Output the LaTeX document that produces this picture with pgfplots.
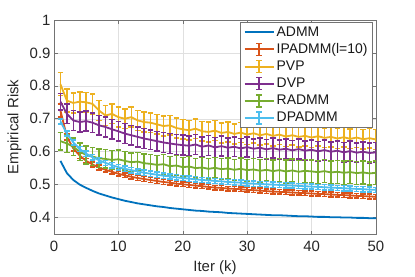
\documentclass[border=0pt]{standalone}
\usepackage{pgfplots}
\pgfplotsset{compat=1.18}
\usepackage{pgfplotstable}
\usepackage{fontspec}
\setmainfont{Liberation Sans}
\definecolor{c1}{rgb}{0,0.447,0.741}
\definecolor{c2}{rgb}{0.85,0.325,0.098}
\definecolor{c3}{rgb}{0.929,0.694,0.125}
\definecolor{c4}{rgb}{0.494,0.184,0.556}
\definecolor{c5}{rgb}{0.466,0.674,0.188}
\definecolor{c6}{rgb}{0.301,0.745,0.933}

\pgfplotstableread{
x y
1 0.572
2 0.535
3 0.514
4 0.500
5 0.490
6 0.481
7 0.473
8 0.467
9 0.461
10 0.456
11 0.451
12 0.447
13 0.443
14 0.440
15 0.437
16 0.434
17 0.432
18 0.429
19 0.427
20 0.425
21 0.423
22 0.421
23 0.420
24 0.418
25 0.417
26 0.416
27 0.414
28 0.413
29 0.412
30 0.411
31 0.410
32 0.409
33 0.408
34 0.407
35 0.407
36 0.406
37 0.405
38 0.404
39 0.404
40 0.403
41 0.402
42 0.402
43 0.401
44 0.401
45 0.400
46 0.400
47 0.399
48 0.399
49 0.398
50 0.398
}\admm

\pgfplotstableread{
x y e
1 0.725 0.020
2 0.645 0.010
3 0.610 0.008
4 0.588 0.008
5 0.572 0.007
6 0.561 0.007
7 0.552 0.007
8 0.545 0.007
9 0.539 0.007
10 0.533 0.007
11 0.528 0.007
12 0.524 0.007
13 0.520 0.007
14 0.517 0.007
15 0.514 0.007
16 0.511 0.007
17 0.508 0.007
18 0.506 0.007
19 0.503 0.007
20 0.501 0.007
21 0.499 0.007
22 0.497 0.007
23 0.495 0.007
24 0.493 0.007
25 0.491 0.007
26 0.490 0.007
27 0.488 0.007
28 0.487 0.007
29 0.486 0.007
30 0.484 0.007
31 0.483 0.007
32 0.482 0.007
33 0.480 0.007
34 0.479 0.007
35 0.478 0.007
36 0.477 0.007
37 0.476 0.007
38 0.475 0.007
39 0.474 0.007
40 0.473 0.007
41 0.472 0.007
42 0.471 0.007
43 0.470 0.007
44 0.469 0.007
45 0.468 0.007
46 0.467 0.007
47 0.466 0.007
48 0.465 0.007
49 0.464 0.007
50 0.463 0.007
}\ipadmm

\pgfplotstableread{
x y e
1 0.805 0.035
2 0.755 0.035
3 0.748 0.030
4 0.752 0.030
5 0.750 0.030
6 0.745 0.030
7 0.725 0.030
8 0.710 0.030
9 0.715 0.030
10 0.705 0.030
11 0.700 0.030
12 0.705 0.030
13 0.695 0.030
14 0.690 0.030
15 0.688 0.030
16 0.683 0.030
17 0.678 0.030
18 0.680 0.030
19 0.672 0.030
20 0.668 0.030
21 0.665 0.030
22 0.670 0.030
23 0.662 0.030
24 0.660 0.030
25 0.664 0.030
26 0.657 0.030
27 0.660 0.030
28 0.654 0.030
29 0.658 0.030
30 0.652 0.030
31 0.656 0.030
32 0.650 0.030
33 0.654 0.030
34 0.648 0.030
35 0.652 0.030
36 0.646 0.030
37 0.650 0.030
38 0.645 0.030
39 0.648 0.030
40 0.643 0.030
41 0.647 0.030
42 0.642 0.030
43 0.645 0.030
44 0.640 0.030
45 0.644 0.030
46 0.639 0.030
47 0.643 0.030
48 0.638 0.030
49 0.641 0.030
50 0.637 0.030
}\pvp

\pgfplotstableread{
x y e
1 0.752 0.025
2 0.715 0.030
3 0.695 0.030
4 0.690 0.030
5 0.693 0.030
6 0.688 0.030
7 0.680 0.030
8 0.675 0.030
9 0.668 0.030
10 0.662 0.030
11 0.655 0.030
12 0.650 0.030
13 0.645 0.030
14 0.640 0.030
15 0.636 0.030
16 0.632 0.030
17 0.628 0.030
18 0.625 0.030
19 0.622 0.030
20 0.620 0.030
21 0.618 0.030
22 0.622 0.030
23 0.615 0.030
24 0.619 0.030
25 0.613 0.030
26 0.617 0.030
27 0.612 0.030
28 0.615 0.030
29 0.610 0.030
30 0.614 0.030
31 0.609 0.030
32 0.612 0.030
33 0.607 0.030
34 0.611 0.030
35 0.606 0.030
36 0.609 0.030
37 0.604 0.030
38 0.608 0.030
39 0.603 0.030
40 0.606 0.030
41 0.601 0.030
42 0.605 0.030
43 0.600 0.030
44 0.603 0.030
45 0.598 0.030
46 0.602 0.030
47 0.597 0.030
48 0.600 0.030
49 0.596 0.030
50 0.598 0.030
}\dvp

\pgfplotstableread{
x y e
1 0.632 0.027
2 0.625 0.027
3 0.615 0.027
4 0.600 0.027
5 0.590 0.027
6 0.585 0.027
7 0.580 0.028
8 0.578 0.028
9 0.575 0.028
10 0.577 0.028
11 0.572 0.028
12 0.568 0.028
13 0.570 0.028
14 0.565 0.028
15 0.563 0.029
16 0.560 0.029
17 0.562 0.029
18 0.556 0.029
19 0.558 0.030
20 0.553 0.030
21 0.555 0.030
22 0.550 0.030
23 0.552 0.031
24 0.548 0.031
25 0.551 0.031
26 0.547 0.032
27 0.549 0.032
28 0.545 0.032
29 0.548 0.033
30 0.544 0.033
31 0.546 0.033
32 0.542 0.034
33 0.545 0.034
34 0.541 0.034
35 0.544 0.035
36 0.540 0.035
37 0.543 0.035
38 0.539 0.035
39 0.542 0.035
40 0.540 0.035
41 0.538 0.035
42 0.541 0.035
43 0.537 0.035
44 0.539 0.035
45 0.536 0.035
46 0.538 0.035
47 0.535 0.035
48 0.537 0.035
49 0.534 0.035
50 0.536 0.035
}\radmm

\pgfplotstableread{
x y e
1 0.692 0.008
2 0.655 0.008
3 0.628 0.008
4 0.608 0.008
5 0.594 0.008
6 0.583 0.008
7 0.574 0.008
8 0.566 0.008
9 0.559 0.008
10 0.553 0.008
11 0.548 0.008
12 0.544 0.008
13 0.540 0.008
14 0.536 0.008
15 0.533 0.008
16 0.530 0.008
17 0.527 0.008
18 0.525 0.008
19 0.522 0.008
20 0.520 0.008
21 0.518 0.008
22 0.516 0.008
23 0.514 0.008
24 0.513 0.008
25 0.511 0.008
26 0.510 0.008
27 0.508 0.008
28 0.507 0.008
29 0.506 0.008
30 0.504 0.008
31 0.503 0.008
32 0.502 0.008
33 0.501 0.008
34 0.500 0.008
35 0.499 0.008
36 0.498 0.008
37 0.497 0.008
38 0.496 0.008
39 0.495 0.008
40 0.494 0.008
41 0.493 0.008
42 0.492 0.008
43 0.491 0.008
44 0.490 0.008
45 0.489 0.008
46 0.488 0.008
47 0.487 0.008
48 0.486 0.008
49 0.485 0.008
50 0.484 0.008
}\dpadmm

\newcommand{\errlegimg}[1]{%
  \draw[#1, line width=2bp] (0bp,0bp) -- (29bp,0bp);
  \draw[#1, line width=1.5bp] (14.5bp,-6bp) -- (14.5bp,6bp);
  \draw[#1, line width=1.5bp] (11.5bp,-6bp) -- (17.5bp,-6bp);
  \draw[#1, line width=1.5bp] (11.5bp,6bp) -- (17.5bp,6bp);
}
\pgfplotsset{
  ebars/.style={
    error bars/y dir=both,
    error bars/y explicit,
    error bars/error bar style={line width=1.5bp, solid},
    error bars/error mark options={line width=1.5bp, mark size=2.8bp, rotate=90},
  },
}

\begin{document}
\begin{tikzpicture}
\begin{axis}[
  scale only axis,
  width=322bp, height=214bp,
  xmin=0, xmax=50, ymin=0.35, ymax=1,
  xtick={0,10,20,30,40,50},
  ytick={0.4,0.5,0.6,0.7,0.8,0.9,1},
  yticklabels={0.4,0.5,0.6,0.7,0.8,0.9,1},
  /pgf/number format/assume math mode=true,
  tick align=inside,
  major tick length=3.5bp,
  grid=major,
  major grid style={draw=black!12, line width=0.5bp},
  axis line style={draw=black!55, line width=0.6bp},
  every tick/.style={draw=black!55, line width=0.6bp},
  tick label style={font=\fontsize{15}{18}\selectfont, text=black!85},
  xticklabel style={yshift=-4bp},
  label style={font=\fontsize{15}{18}\selectfont, text=black!85},
  xlabel={Iter (k)},
  ylabel={Empirical Risk},
  xlabel style={at={(axis description cs:0.5,-0.125)}, anchor=north, inner sep=0pt},
  ylabel style={at={(axis description cs:-0.1,0.5)}, anchor=south, inner sep=0pt},
  legend style={at={(rel axis cs:0.99,0.99)}, anchor=north east,
    draw=black!55, line width=0.6bp, fill=white,
    font=\fontsize{14}{16}\selectfont, text=black!90,
    inner xsep=3bp, inner ysep=2bp, row sep=2bp},
  legend cell align=left,
]
\addplot[color=c1, line width=1.8bp, legend image code/.code={\draw[c1, line width=2bp] (0bp,0bp) -- (29bp,0bp);}] table[x=x,y=y] {\admm};
\addlegendentry{ADMM}
\addplot[color=c2, line width=1.8bp, ebars, legend image code/.code={\errlegimg{c2}}] table[x=x,y=y,y error=e] {\ipadmm};
\addlegendentry{IPADMM(l=10)}
\addplot[color=c3, line width=1.8bp, ebars, legend image code/.code={\errlegimg{c3}}] table[x=x,y=y,y error=e] {\pvp};
\addlegendentry{PVP}
\addplot[color=c4, line width=1.8bp, ebars, legend image code/.code={\errlegimg{c4}}] table[x=x,y=y,y error=e] {\dvp};
\addlegendentry{DVP}
\addplot[color=c5, line width=1.8bp, ebars, legend image code/.code={\errlegimg{c5}}] table[x=x,y=y,y error=e] {\radmm};
\addlegendentry{RADMM}
\addplot[color=c6, line width=1.8bp, ebars, legend image code/.code={\errlegimg{c6}}] table[x=x,y=y,y error=e] {\dpadmm};
\addlegendentry{DPADMM}
\end{axis}
\pgfresetboundingbox
\path[use as bounding box] ([shift={(-54bp,-43bp)}]current axis.south west) rectangle ([shift={(39bp,20bp)}]current axis.north east);
\end{tikzpicture}
\end{document}
